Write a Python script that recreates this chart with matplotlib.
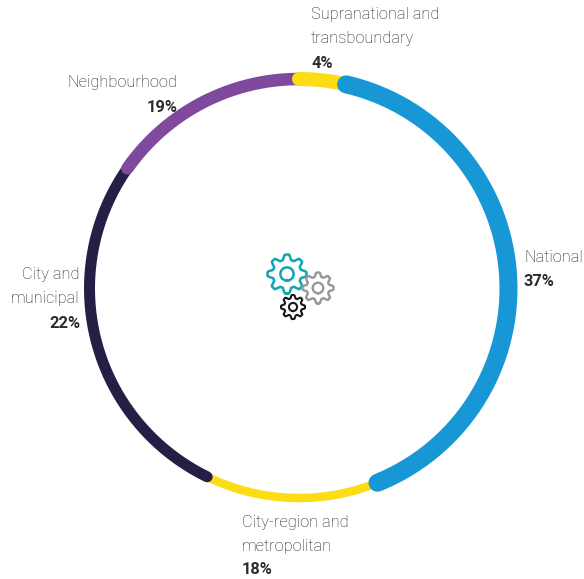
import numpy as np
import matplotlib
matplotlib.use("Agg")
import matplotlib.pyplot as plt

labels = ["National", "City-region and\nmetropolitan", "City and\nmunicipal", "Neighbourhood", "Supranational and\ntransboundary"]
percents = [37, 18, 22, 19, 4]
# Arc spans as drawn in the picture (degrees clockwise from the top)
arc_start = [13, 158, 206, 305, 360]
arc_end = [158, 206, 305, 360, 373]
colors = ["#1897d6", "#fcdc12", "#241f45", "#7f4a9d", "#fcdc12"]
widths = [18, 8.5, 11, 12.5, 14]
label_xy = [(524, 258), (242, 522), (79, 275), (177, 83), (311, 15)]
aligns = ["left", "left", "right", "right", "left"]
draw_order = [1, 2, 3, 4, 0]

gears = [(287, 274, 19.5, "#12a5b0", 2.5), (318, 288, 15.5, "#999999", 2.4), (293, 307, 12, "#1a1a1a", 2.1)]

plt.rcParams["font.family"] = ["Roboto", "DejaVu Sans"]
dpi = 100
fig = plt.figure(figsize=(5.84, 5.79), dpi=dpi)
ax = fig.add_axes([0, 0, 1, 1])
ax.set_xlim(0, 584)
ax.set_ylim(579, 0)
ax.axis("off")
px = 72 / dpi

cx, cy, r = 299, 288.5, 209.5
for i in draw_order:
    th = np.radians(np.linspace(arc_start[i], arc_end[i], 200))
    ax.plot(cx + r * np.sin(th), cy - r * np.cos(th), color=colors[i],
            lw=widths[i] * px, solid_capstyle="round")

for (gx, gy, gr, col, lw) in gears:
    t = np.linspace(0, 2 * np.pi, 720)
    wave = np.clip(1.5 * np.cos(8 * t), -1, 1)
    R = gr * (0.87 + 0.13 * wave)
    ax.plot(gx + R * np.sin(t), gy + R * np.cos(t), color=col, lw=lw * px, solid_joinstyle="round")
    ax.plot(gx + 0.34 * gr * np.sin(t), gy + 0.34 * gr * np.cos(t), color=col, lw=lw * px)

for i, lab in enumerate(labels):
    x, y = label_xy[i]
    lines = lab.split("\n")
    for k, ln in enumerate(lines):
        ax.text(x, y + k * 24, ln, ha=aligns[i], va="center", fontsize=11.75,
                color="#1f1f1f", fontweight="light")
    ax.text(x + (1 if aligns[i] == "right" else 0), y + len(lines) * 24, f"{percents[i]}%", ha=aligns[i], va="center",
            fontsize=11.75, color="#2b2b2b", fontweight="bold")

fig.savefig("out.png", dpi=dpi)
